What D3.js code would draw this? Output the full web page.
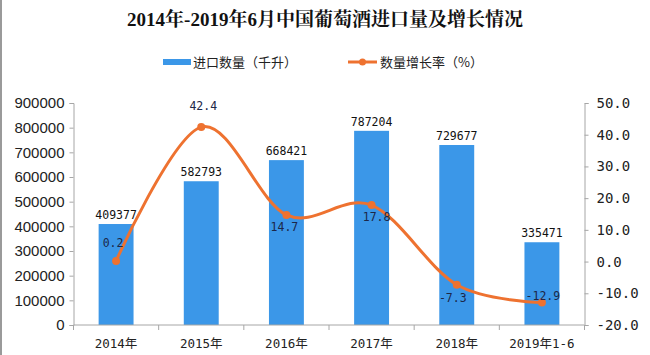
<!DOCTYPE html>
<html>
<head>
<meta charset="utf-8">
<script src="https://cdn.jsdelivr.net/npm/d3@7"></script>
<style>
  html, body { margin: 0; padding: 0; background: #fff; }
  svg { display: block; }
</style>
</head>
<body>
<svg id="chart" width="650" height="355"></svg>
<script>
// ---- data ----
const categories = ["2014年", "2015年", "2016年", "2017年", "2018年", "2019年1-6"];
const importVolume = [409377, 582793, 668421, 787204, 729677, 335471];
const growthRate = [0.2, 42.4, 14.7, 17.8, -7.3, -12.9];
const leftTicks = [0, 100000, 200000, 300000, 400000, 500000, 600000, 700000, 800000, 900000];
const rightTicks = [-20, -10, 0, 10, 20, 30, 40, 50];
const titleText = "2014年-2019年6月中国葡萄酒进口量及增长情况";
const seriesNames = ["进口数量（千升）", "数量增长率（%）"];

// ---- layout / style ----
const W = 650, H = 355;
const plot = { left: 73.5, right: 584.5, top: 103, bottom: 325 };
const barColor = "#3b97e8";
const lineColor = "#ee7230";
const axisColor = "#a6a6a6";
const monoFont = "'DejaVu Sans Mono', 'Liberation Mono', monospace";
const sansFont = "'Liberation Sans', Arial, sans-serif";
const cjkFont = "'Noto Sans CJK SC', sans-serif";
// label offsets (dx, dy to baseline) for growth labels, as placed in the reference
const growthLabelOffset = [[-3, -14], [2, -17], [-2, 16], [5, 16], [-4, 17], [1, -2]];

const svg = d3.select("#chart");

svg.append("rect").attr("width", W).attr("height", H).attr("fill", "#fff");
svg.append("line").attr("x1", 1).attr("x2", 1).attr("y1", 0).attr("y2", H)
  .attr("stroke", "#9a9a9a").attr("stroke-width", 2);

// scales
const x = d3.scaleBand().domain(categories)
  .range([plot.left, plot.right]).paddingInner(0.59).paddingOuter(0.295);
const yL = d3.scaleLinear().domain([0, 900000]).range([plot.bottom, plot.top]);
const yR = d3.scaleLinear().domain([-20, 50]).range([plot.bottom, plot.top]);

// title
svg.append("text")
  .attr("x", 325).attr("y", 26)
  .attr("text-anchor", "middle")
  .attr("font-family", "'Liberation Serif', 'Noto Serif CJK SC', 'Noto Sans CJK SC', serif")
  .attr("font-weight", "bold")
  .attr("font-size", 19)
  .attr("fill", "#111")
  .text(titleText);

// legend
const lg = svg.append("g");
lg.append("rect").attr("x", 163).attr("y", 59).attr("width", 28).attr("height", 6).attr("fill", barColor);
lg.append("text").attr("x", 193).attr("y", 67).attr("font-family", cjkFont).attr("font-size", 13)
  .attr("fill", "#222").text(seriesNames[0]);
lg.append("line").attr("x1", 348).attr("x2", 377).attr("y1", 62).attr("y2", 62)
  .attr("stroke", lineColor).attr("stroke-width", 3);
lg.append("circle").attr("cx", 362.5).attr("cy", 62).attr("r", 3.5).attr("fill", lineColor);
lg.append("text").attr("x", 380).attr("y", 67).attr("font-family", cjkFont).attr("font-size", 13)
  .attr("fill", "#222").text(seriesNames[1]);

// bars
svg.append("g").selectAll("rect").data(importVolume).join("rect")
  .attr("x", (d, i) => x(categories[i]))
  .attr("width", x.bandwidth())
  .attr("y", d => yL(d))
  .attr("height", d => yL(0) - yL(d))
  .attr("fill", barColor);

// bar labels
svg.append("g").selectAll("text").data(importVolume).join("text")
  .attr("x", (d, i) => x(categories[i]) + x.bandwidth() / 2)
  .attr("y", d => yL(d) - 5)
  .attr("text-anchor", "middle")
  .attr("font-family", monoFont)
  .attr("font-size", 11.5)
  .attr("fill", "#111")
  .text(d => d);

// left axis
const axL = svg.append("g").attr("transform", `translate(${plot.left},0)`)
  .call(d3.axisLeft(yL).tickValues(leftTicks).tickSize(4).tickPadding(5).tickFormat(d3.format("d")));
axL.select(".domain").attr("stroke", axisColor);
axL.selectAll(".tick line").attr("stroke", axisColor);
axL.selectAll(".tick text").attr("font-family", sansFont).attr("font-size", 15).attr("fill", "#222");

// right axis
const axR = svg.append("g").attr("transform", `translate(${plot.right},0)`)
  .call(d3.axisRight(yR).tickValues(rightTicks).tickSize(4).tickPadding(8).tickFormat(d3.format(".1f")));
axR.select(".domain").attr("stroke", axisColor);
axR.selectAll(".tick line").attr("stroke", axisColor);
axR.selectAll(".tick text").attr("font-family", monoFont).attr("font-size", 14).attr("fill", "#222")
  .text(d => d3.format(".1f")(d).replace("−", "-"));

// x axis
const axX = svg.append("g").attr("transform", `translate(0,${plot.bottom})`);
axX.append("line").attr("x1", plot.left).attr("x2", plot.right).attr("y1", 0).attr("y2", 0)
  .attr("stroke", axisColor);
const step = x.step();
const boundaries = d3.range(categories.length + 1).map(i => plot.left + i * step);
axX.selectAll("line.tk").data(boundaries).join("line").attr("class", "tk")
  .attr("x1", d => d).attr("x2", d => d).attr("y1", 0).attr("y2", 5).attr("stroke", axisColor);
axX.selectAll("text").data(categories).join("text")
  .attr("x", d => x(d) + x.bandwidth() / 2)
  .attr("y", 23)
  .attr("text-anchor", "middle")
  .attr("font-family", `${monoFont.split(",")[0]}, 'Noto Sans CJK SC', monospace`)
  .attr("font-size", 12.5)
  .attr("fill", "#222")
  .text(d => d);

// growth line
const pts = growthRate.map((v, i) => [x(categories[i]) + x.bandwidth() / 2, yR(v)]);
svg.append("path")
  .attr("d", d3.line().curve(d3.curveCardinal.tension(0))(pts))
  .attr("fill", "none")
  .attr("stroke", lineColor)
  .attr("stroke-width", 3);
svg.append("g").selectAll("circle").data(pts).join("circle")
  .attr("cx", d => d[0]).attr("cy", d => d[1]).attr("r", 4).attr("fill", lineColor);

// growth labels
svg.append("g").selectAll("text").data(growthRate).join("text")
  .attr("x", (d, i) => pts[i][0] + growthLabelOffset[i][0])
  .attr("y", (d, i) => pts[i][1] + growthLabelOffset[i][1])
  .attr("text-anchor", "middle")
  .attr("font-family", monoFont)
  .attr("font-size", 11.5)
  .attr("fill", "#1c2748")
  .text(d => d3.format(".1f")(d).replace("−", "-"));
</script>
</body>
</html>
